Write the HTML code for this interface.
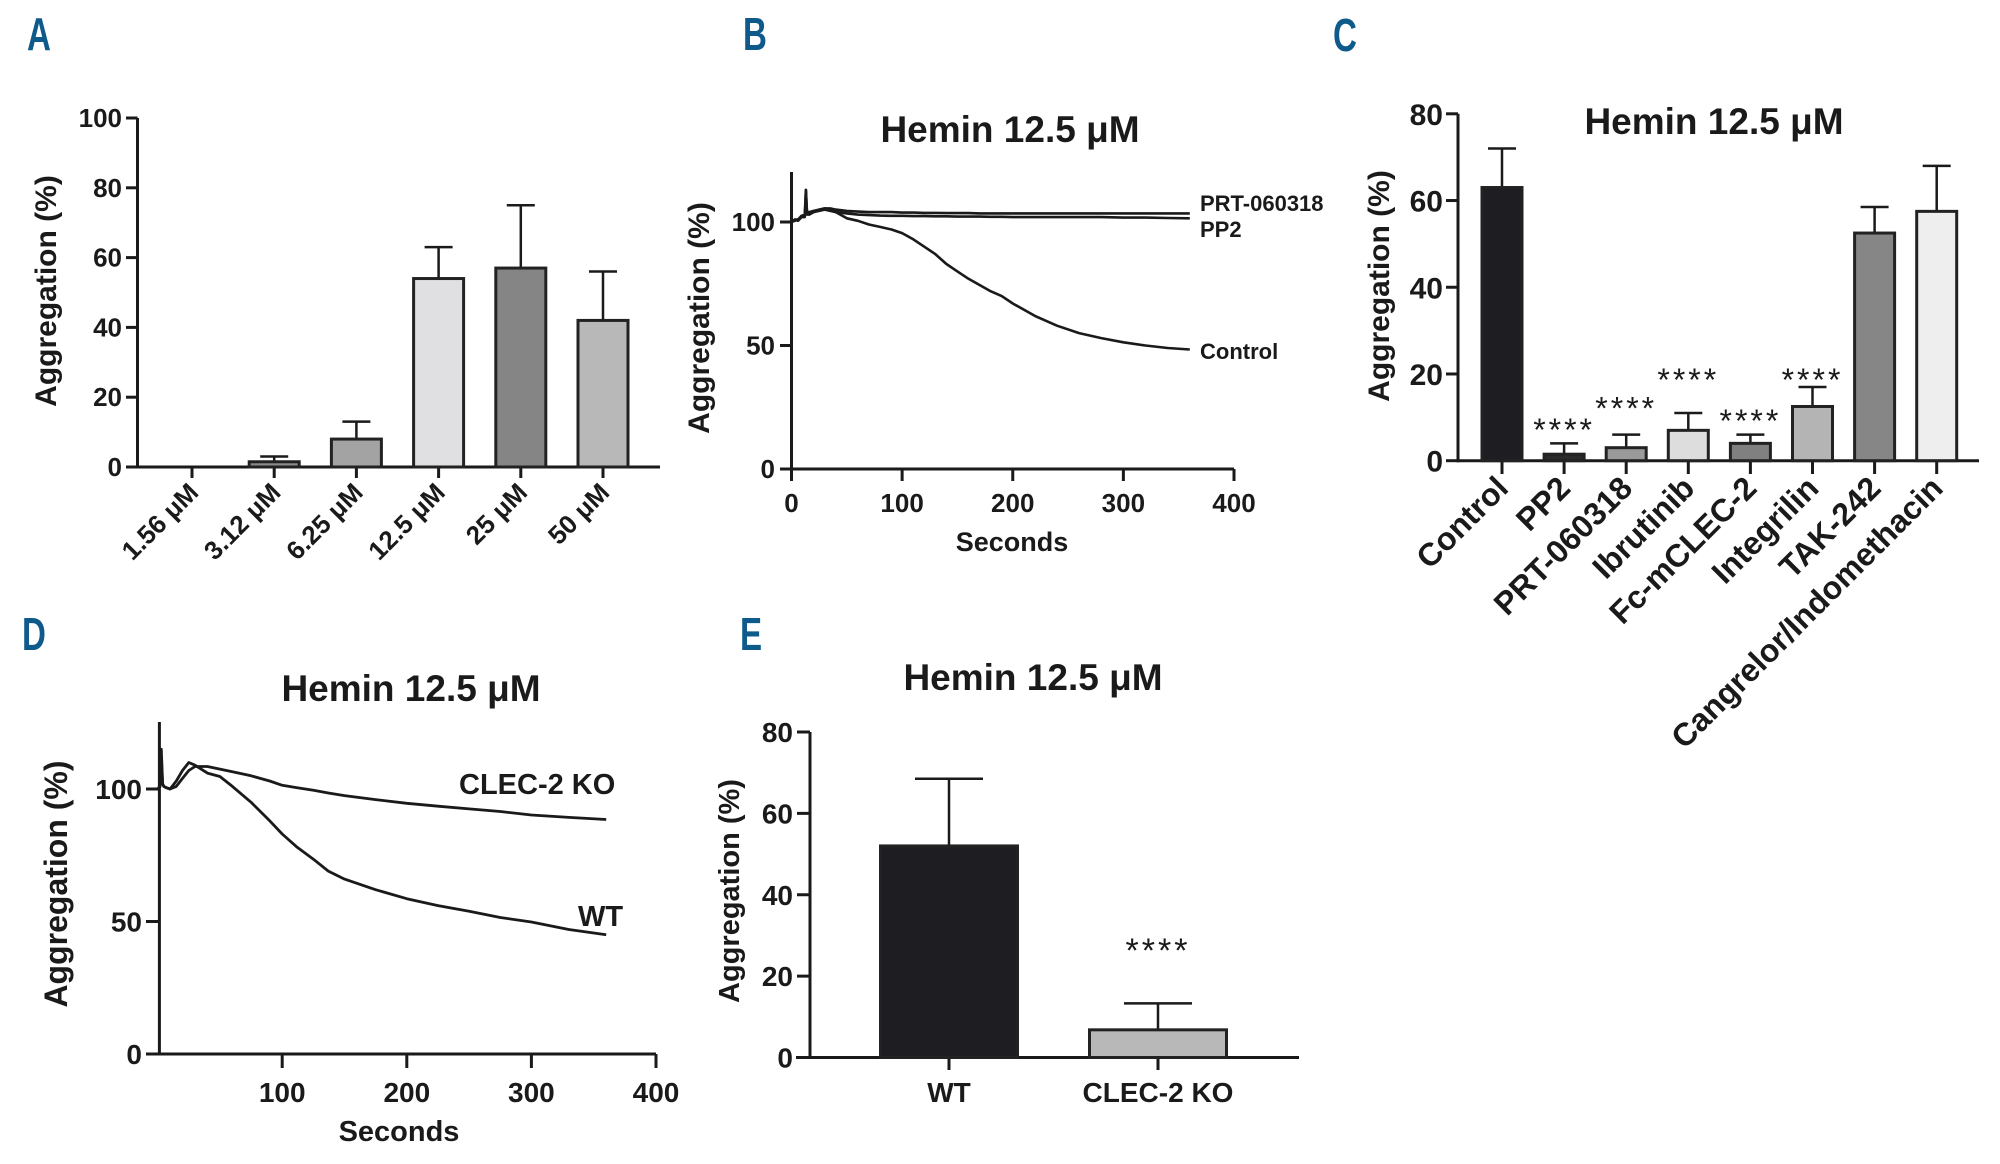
<!DOCTYPE html>
<html><head><meta charset="utf-8">
<style>
html,body{margin:0;padding:0;background:#fff;}
svg{display:block;}
text{font-family:"Liberation Sans",Arial,sans-serif;fill:#1a1a1a;}
</style></head>
<body>
<svg id="fig" width="2000" height="1164" viewBox="0 0 2000 1164" xmlns="http://www.w3.org/2000/svg"></svg>
<script>
// ---------- DATA ----------
const aCategories = ["1.56 \u03bcM","3.12 \u03bcM","6.25 \u03bcM","12.5 \u03bcM","25 \u03bcM","50 \u03bcM"];
const aValues = [0, 1.5, 8, 54, 57, 42];
const aErrors = [0, 3, 13, 63, 75, 56];
const aColors = ["#ffffff","#8a8a8a","#a3a3a3","#e0e0e2","#858585","#b8b8b8"];
const aTicks = [0,20,40,60,80,100];

const cCategories = ["Control","PP2","PRT-060318","Ibrutinib","Fc-mCLEC-2","Integrilin","TAK-242","Cangrelor/Indomethacin"];
const cValues = [63, 1.5, 3, 7, 4, 12.5, 52.5, 57.5];
const cErrors = [72, 4, 6, 11, 6, 17, 58.5, 68];
const cStars = ["", "****", "****", "****", "****", "****", "", ""];
const cStarLevel = [0, 7.3, 12.3, 18.8, 9.4, 18.8, 0, 0];
const cColors = ["#1e1e22","#2a2a2c","#9a9a9a","#dddddd","#808080","#b4b4b4","#868686","#eeeeee"];
const cTicks = [0,20,40,60,80];

const eCategories = ["WT","CLEC-2 KO"];
const eValues = [52, 6.8];
const eErrors = [68.5, 13.3];
const eColors = ["#1e1e22","#b8b8b8"];
const eTicks = [0,20,40,60,80];

const bTime = [0,3,6,9,12,13,14,16,20,25,30,35,40,50,60,70,80,90,100,110,120,130,140,150,160,170,180,190,200,220,240,260,280,300,320,340,360];
const bControl = [100,101,100.5,102,102,113,103,103,104,105,105.5,105,104,101.5,100.5,99,98,97,95.5,93,90,87,83,80,77,74.5,72,70,67,62,58,55,53,51.3,50,49,48.4];
const bPRT = [100,101,101,102.5,103,113,104,104,104.5,105,105.5,105.5,105,104.5,104.2,104,104,104,103.8,103.8,103.7,103.7,103.6,103.6,103.6,103.5,103.5,103.5,103.5,103.5,103.5,103.5,103.5,103.5,103.5,103.5,103.5];
const bPP2 = [100,100.5,101,102,102.5,104,103.5,103.5,104,104.5,105,104.5,104,103.5,103,102.8,102.6,102.5,102.5,102.4,102.4,102.3,102.3,102.2,102.2,102.2,102.1,102.1,102,102,102,102,102,101.8,101.8,101.6,101.5];
const bTicksX = [0,100,200,300,400];
const bTicksY = [0,50,100];

const dTime = [0,2,3,4,5,7,10,15,20,25,30,40,50,60,75,90,100,112,125,137,150,175,200,225,250,275,300,330,360];
const dWT = [100,101,115,102,101,100.5,100,103,107,110,109,106,104.7,101,95,88,83,78,73.5,69,66,62,58.6,56,53.9,51.5,49.8,47,45];
const dKO = [100,101,112,102,101,100.5,100,101,104,107,108.5,108.5,107.5,106.5,105,103,101.4,100.5,99.5,98.5,97.5,96,94.6,93.5,92.5,91.5,90.2,89.3,88.5];
const dTicksX = [100,200,300,400];
const dTicksY = [0,50,100];

// ---------- HELPERS ----------
const NS = "http://www.w3.org/2000/svg";
const svg = document.getElementById("fig");
function mk(tag, attrs, parent){
  const e = document.createElementNS(NS, tag);
  for (const k in attrs) e.setAttribute(k, attrs[k]);
  (parent||svg).appendChild(e);
  return e;
}
function txt(str, x, y, size, weight, anchor, parent){
  const t = mk("text", {x:x, y:y, "font-size":size, "font-weight":weight, "text-anchor":anchor}, parent);
  t.textContent = str;
  return t;
}
function group(name){
  const g = mk("g", {});
  
  
  return g;
}
function panelLetter(ch, x, y, g){
  const t = mk("text", {x:x, y:y, "font-size":46, "font-weight":"bold", transform:"translate("+x+","+y+") scale(0.72,1) translate("+(-x)+","+(-y)+")"}, g);
  t.style.fill = "#0e5a8a";
  t.textContent = ch;
  
  
}
function line(x1,y1,x2,y2,g,w){
  return mk("line",{x1:x1,y1:y1,x2:x2,y2:y2,stroke:"#1a1a1a","stroke-width":w||3},g);
}
function yTitle(str, cx, cy, size, g){
  const t = mk("text",{x:0,y:0,"font-size":size,"font-weight":"bold","text-anchor":"middle",transform:"translate("+cx+","+cy+") rotate(-90)"},g);
  t.textContent = str;
  
  
}
function title(str, cx, by, g){
  const t = txt(str, cx, by, 37, "bold", "middle", g);
  
  
}

// ---------- PANEL A ----------
(function(){
  const g = group("panel-a-bar-chart");
  panelLetter("A", 27, 50, g);
  const y0 = 467, y100 = 118;
  const yA = v => y0 - v*(y0-y100)/100;
  const xA = i => 192 + i*82.2;
  const bw = 50;
  line(137.5, y100, 137.5, y0+1.5, g);
  line(136, y0, 660, y0, g);
  aTicks.forEach(v=>{
    const tk = line(126, yA(v), 137.5, yA(v), g);
    
    
    const lb = txt(String(v), 122, yA(v)+9, 26, "bold", "end", g);
    
    
  });
  yTitle("Aggregation (%)", 56, 291, 30, g);
  aCategories.forEach((c,i)=>{
    const x = xA(i);
    line(x, y0, x, 478, g);
    if (aValues[i] > 0) {
      const e = line(x, yA(aValues[i]), x, yA(aErrors[i]), g, 2.5);
      
      
      line(x-14, yA(aErrors[i]), x+14, yA(aErrors[i]), g, 2.5);
      const r = mk("rect",{x:x-bw/2, y:yA(aValues[i]), width:bw, height:y0-yA(aValues[i]), fill:aColors[i], stroke:"#222", "stroke-width":3}, g);
      
      
    }
    const t = mk("text",{x:0,y:0,"font-size":26,"font-weight":"bold","text-anchor":"end",transform:"translate("+(x+8)+",494) rotate(-45)"},g);
    t.textContent = c;
    
    
  });
})();

// ---------- PANEL B ----------
(function(){
  const g = group("panel-b-line-chart");
  panelLetter("B", 743, 50, g);
  title("Hemin 12.5 \u03bcM", 1010, 142, g);
  const xB = t => 791.5 + t*(1234-791.5)/400;
  const yB = v => 469 - v*2.47;
  line(791.5, 172, 791.5, 470, g);
  line(790, 469, 1234, 469, g);
  bTicksY.forEach(v=>{
    line(780, yB(v), 791.5, yB(v), g);
    const lb = txt(String(v), 775, yB(v)+9, 26, "bold", "end", g);
    
    
  });
  bTicksX.forEach(t=>{
    line(xB(t), 469, xB(t), 481, g);
    const lb = txt(String(t), xB(t), 512, 26, "bold", "middle", g);
    
    
  });
  const xt = txt("Seconds", 1012, 551, 27, "bold", "middle", g);
  
  
  yTitle("Aggregation (%)", 709, 318, 30, g);
  const series = [[bPRT,"prt-060318-line"],[bPP2,"pp2-line"],[bControl,"control-line"]];
  series.forEach(s=>{
    const pts = bTime.map((t,i)=>xB(t).toFixed(1)+","+yB(s[0][i]).toFixed(1)).join(" ");
    const p = mk("polyline",{points:pts,fill:"none",stroke:"#1a1a1a","stroke-width":2.6,"stroke-linejoin":"round"},g);
    
    
  });
  const l1 = txt("PRT-060318", 1200, 211, 22, "bold", "start", g);
  
  
  const l2 = txt("PP2", 1200, 237, 22, "bold", "start", g);
  
  
  const l3 = txt("Control", 1200, 359, 22, "bold", "start", g);
  
  
})();

// ---------- PANEL C ----------
(function(){
  const g = group("panel-c-bar-chart");
  panelLetter("C", 1333, 51, g);
  title("Hemin 12.5 \u03bcM", 1714, 134, g);
  const y0 = 460.7, y80 = 113.8;
  const yC = v => y0 - v*(y0-y80)/80;
  const xC = i => 1502 + i*62.1;
  const bw = 40;
  line(1458, y80, 1458, y0+1.5, g);
  line(1457, y0, 1979, y0, g);
  cTicks.forEach(v=>{
    line(1446, yC(v), 1458, yC(v), g);
    const lb = txt(String(v), 1443, yC(v)+11, 30, "bold", "end", g);
    
    
  });
  yTitle("Aggregation (%)", 1389, 286, 30, g);
  cCategories.forEach((c,i)=>{
    const x = xC(i);
    line(x, y0, x, 474, g);
    const e = line(x, yC(cValues[i]), x, yC(cErrors[i]), g, 2.5);
    
    
    line(x-14, yC(cErrors[i]), x+14, yC(cErrors[i]), g, 2.5);
    const r = mk("rect",{x:x-bw/2, y:yC(cValues[i]), width:bw, height:y0-yC(cValues[i]), fill:cColors[i], stroke:"#222", "stroke-width":3}, g);
    
    
    if (cStars[i]) {
      const s = txt(cStars[i], x, yC(cStarLevel[i])+12, 32, "normal", "middle", g);
      s.setAttribute("letter-spacing", "3");
      
      
    }
    const t = mk("text",{x:0,y:0,"font-size":32,"font-weight":"bold","text-anchor":"end",transform:"translate("+(x+8)+",490) rotate(-45)"},g);
    t.textContent = c;
    
    
  });
})();

// ---------- PANEL D ----------
(function(){
  const g = group("panel-d-line-chart");
  panelLetter("D", 22, 650, g);
  title("Hemin 12.5 \u03bcM", 411, 701, g);
  const xD = t => 157.6 + t*1.246;
  const yD = v => 1054 - v*2.65;
  line(159.4, 722, 159.4, 1055, g);
  line(146, 1054, 656, 1054, g);
  dTicksY.forEach(v=>{
    line(146, yD(v), 159.4, yD(v), g);
    const lb = txt(String(v), 142, yD(v)+10, 28, "bold", "end", g);
    
    
  });
  dTicksX.forEach(t=>{
    line(xD(t), 1054, xD(t), 1068, g);
    const lb = txt(String(t), xD(t), 1102, 28, "bold", "middle", g);
    
    
  });
  const xt = txt("Seconds", 399, 1141, 29, "bold", "middle", g);
  
  
  yTitle("Aggregation (%)", 67, 884, 32, g);
  const series = [[dKO,"clec-2-ko-line"],[dWT,"wt-line"]];
  series.forEach(s=>{
    const pts = dTime.map((t,i)=>xD(t).toFixed(1)+","+yD(s[0][i]).toFixed(1)).join(" ");
    const p = mk("polyline",{points:pts,fill:"none",stroke:"#1a1a1a","stroke-width":2.8,"stroke-linejoin":"round"},g);
    
    
  });
  const l1 = txt("CLEC-2 KO", 459, 794, 29, "bold", "start", g);
  
  
  const l2 = txt("WT", 578, 926, 29, "bold", "start", g);
  
  
})();

// ---------- PANEL E ----------
(function(){
  const g = group("panel-e-bar-chart");
  panelLetter("E", 740, 650, g);
  title("Hemin 12.5 \u03bcM", 1033, 690, g);
  const y0 = 1057.5, y80 = 732;
  const yE = v => y0 - v*(y0-y80)/80;
  const xE = i => 949 + i*209;
  const bw = 137;
  line(810, y80, 810, y0+1.5, g);
  line(796, y0, 1299, y0, g);
  eTicks.forEach(v=>{
    line(797, yE(v), 810, yE(v), g);
    const lb = txt(String(v), 793, yE(v)+10, 28, "bold", "end", g);
    
    
  });
  yTitle("Aggregation (%)", 739, 891, 29, g);
  eCategories.forEach((c,i)=>{
    const x = xE(i);
    line(x, y0, x, 1070, g);
    const e = line(x, yE(eValues[i]), x, yE(eErrors[i]), g, 2.5);
    
    
    line(x-34, yE(eErrors[i]), x+34, yE(eErrors[i]), g, 2.5);
    const r = mk("rect",{x:x-bw/2, y:yE(eValues[i]), width:bw, height:y0-yE(eValues[i]), fill:eColors[i], stroke:"#222", "stroke-width":3}, g);
    
    
    const lb = txt(c, x, 1102, 28, "bold", "middle", g);
    
    
  });
  const s = txt("****", xE(1), 962, 34, "normal", "middle", g);
  s.setAttribute("letter-spacing", "3");
  
  
})();
</script>
</body></html>
